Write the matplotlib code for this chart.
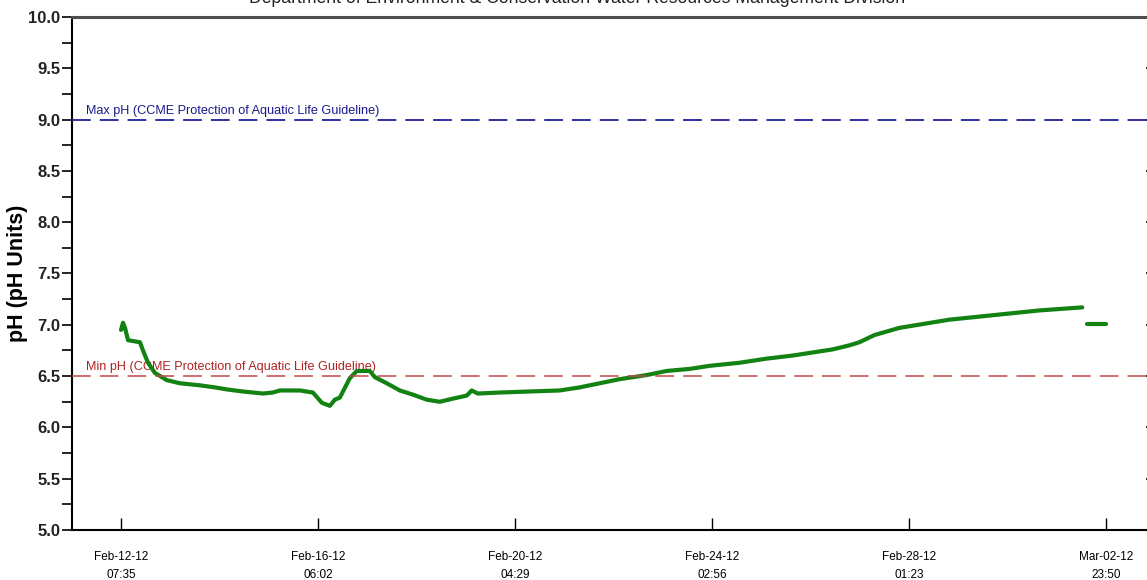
import numpy as np
import pandas as pd
import matplotlib
matplotlib.use("Agg")
import matplotlib.pyplot as plt
import matplotlib.dates as mdates
from matplotlib.ticker import MultipleLocator, FormatStrFormatter
import matplotlib.transforms as mtransforms

plt.rcParams["font.family"] = ["Liberation Sans", "DejaVu Sans"]
plt.rcParams["lines.scale_dashes"] = False

# Dados
title = "Department of Environment & Conservation Water Resources Management Division"
start = pd.Timestamp("2012-02-12 07:35")
tick_step = pd.Timedelta("3 days 22:27:00")

# dias desde o início / valores de pH
days_a = [0.000, 0.040, 0.080, 0.140, 0.379, 0.439, 0.539, 0.679, 0.918, 1.178,
          1.577, 1.876, 2.116, 2.435, 2.834, 3.034, 3.174, 3.573, 3.832, 4.012,
          4.172, 4.271, 4.371, 4.571, 4.711, 4.970, 5.070, 5.309, 5.569, 5.828,
          6.108, 6.367, 6.627, 6.906, 7.006, 7.126, 7.565, 8.164, 8.762, 9.162,
          9.561, 9.960, 10.499, 10.898, 11.357, 11.756, 12.355, 12.894, 13.413,
          13.812, 14.212, 14.551, 14.750, 15.050, 15.549, 16.547, 17.545, 18.343,
          19.202]
ph_a = [6.95, 7.02, 6.97, 6.85, 6.83, 6.75, 6.63, 6.53, 6.46, 6.43,
        6.41, 6.39, 6.37, 6.35, 6.33, 6.34, 6.36, 6.36, 6.34, 6.24,
        6.21, 6.27, 6.29, 6.48, 6.55, 6.55, 6.49, 6.43, 6.36, 6.32,
        6.27, 6.25, 6.28, 6.31, 6.36, 6.33, 6.34, 6.35, 6.36, 6.39,
        6.43, 6.47, 6.51, 6.55, 6.57, 6.60, 6.63, 6.67, 6.70,
        6.73, 6.76, 6.80, 6.83, 6.90, 6.97, 7.05, 7.10, 7.14,
        7.17]
days_b = [19.301, 19.681]
ph_b = [7.01, 7.01]

ph_max = 9.0
ph_min = 6.5
max_label = "Max pH (CCME Protection of Aquatic Life Guideline)"
min_label = "Min pH (CCME Protection of Aquatic Life Guideline)"

t_a = [start + pd.Timedelta(days=d) for d in days_a]
t_b = [start + pd.Timedelta(days=d) for d in days_b]
ticks = [start + k * tick_step for k in range(6)]

fig = plt.figure(figsize=(11.47, 5.8), dpi=100)
ax = fig.add_axes([72 / 1147, 50 / 580, (1156 - 72) / 1147, 513 / 580])

ax.plot(t_a, ph_a, color="#128212", lw=3, zorder=3, solid_capstyle="round")
ax.plot(t_b, ph_b, color="#128212", lw=3, zorder=3, solid_capstyle="round")

ax.axhline(ph_max, color="#1f1f99", lw=1.3, linestyle=(0, (13.5, 6.5)), zorder=4)
ax.axhline(ph_min, color="#c04848", lw=1.3, linestyle=(0, (13.5, 6.5)), zorder=4, alpha=0.85)

trans = mtransforms.blended_transform_factory(ax.transAxes, ax.transData)
ax.text(0.013, ph_max + 0.03, max_label, transform=trans, color="#1a1a8c",
        fontsize=9.1, va="bottom", ha="left", zorder=2)
ax.text(0.013, ph_min + 0.03, min_label, transform=trans, color="#b22222",
        fontsize=9.1, va="bottom", ha="left", zorder=2)

ax.set_ylim(5.0, 10.0)
ax.set_xlim(start - pd.Timedelta(days=0.979), start + pd.Timedelta(days=20.675))

ax.yaxis.set_major_locator(MultipleLocator(0.5))
ax.yaxis.set_minor_locator(MultipleLocator(0.25))
ax.yaxis.set_major_formatter(FormatStrFormatter("%.1f"))
ax.set_xticks(ticks)
ax.xaxis.set_major_formatter(mdates.DateFormatter("%b-%d-%y\n%H:%M"))

ax.tick_params(axis="y", which="both", direction="out", length=7, width=1.2,
               labelsize=12, pad=1.5, right=True)
ax.tick_params(axis="y", which="minor", right=False)
for lbl in ax.get_yticklabels():
    lbl.set_fontweight("bold")
    lbl.set_color("#222222")
for t in ax.yaxis.get_major_ticks():
    t.tick2line.set_marker(matplotlib.lines.TICKLEFT)
ax.tick_params(axis="x", direction="in", length=8.6, width=1.0, labelsize=8.5, pad=15)
for lbl in ax.get_xticklabels():
    lbl.set_linespacing(1.7)

ax.set_ylabel("pH (pH Units)", fontsize=15.5, fontweight="bold")
ax.yaxis.set_label_coords(-0.041, 0.5)

ax.spines["top"].set_color("#4d4d4d")
ax.spines["top"].set_linewidth(2.2)
ax.spines["left"].set_linewidth(1.5)
ax.spines["bottom"].set_linewidth(1.5)

# título cortado no topo, como no original
fig.text(0.503, 1 - 3 / 580, title, ha="center", va="baseline", fontsize=12.7, color="#222222")

fig.savefig("out.png", dpi=100)
